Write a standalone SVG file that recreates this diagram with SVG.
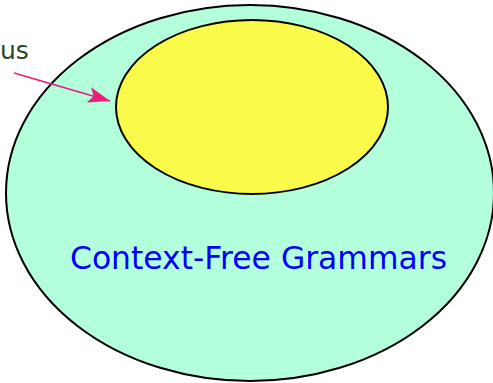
<svg xmlns="http://www.w3.org/2000/svg" width="493" height="383" viewBox="0 0 493 383">
<defs>
<style>
.ell{stroke:#000;stroke-width:2}
.lbl{font-family:"DejaVu Sans",sans-serif}
</style>
<marker id="ah" markerWidth="22" markerHeight="16" refX="22" refY="8" orient="auto" markerUnits="userSpaceOnUse" viewBox="0 0 22 16">
<path d="M0,0 L22,8 L0,16 L5,8 Z" fill="#ed1c7a"/>
</marker>
</defs>
<g id="cfg">
<ellipse class="ell" cx="250" cy="193" rx="244" ry="188" fill="#b3ffdc"/>
<text class="lbl" x="70" y="269" font-size="31.4" fill="#0000ff">Context-Free Grammars</text>
</g>
<g id="inner">
<ellipse class="ell" cx="252" cy="107" rx="136" ry="87" fill="#fafa4b"/>
</g>
<g id="us">
<text class="lbl" x="0" y="59" font-size="25" fill="#2b4a2b">us</text>
</g>
<g id="connectors">
<line x1="14" y1="73" x2="110" y2="101" stroke="#ed1c7a" stroke-width="1.6" marker-end="url(#ah)"/>
</g>
</svg>
